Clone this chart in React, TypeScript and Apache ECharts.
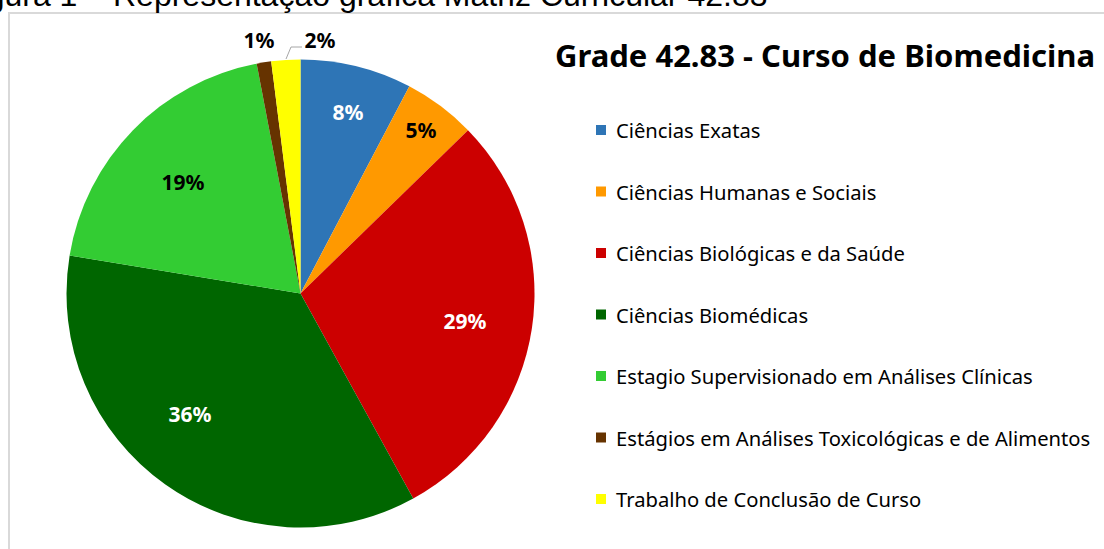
import React, { useEffect, useRef } from "react";
import * as echarts from "echarts";

const categories = [
  "Ciências Exatas",
  "Ciências Humanas e Sociais",
  "Ciências Biológicas e da Saúde",
  "Ciências Biomédicas",
  "Estagio Supervisionado em Análises Clínicas",
  "Estágios em Análises Toxicológicas e de Alimentos",
  "Trabalho de Conclusão de Curso",
];
const values = [7.7, 5.0, 29.3, 35.6, 19.4, 1.0, 2.0];
const colors = ["#2E75B6", "#FF9900", "#CC0000", "#006600", "#33CC33", "#663300", "#FFFF00"];
const labelColors = ["#FFFFFF", "#000000", "#FFFFFF", "#FFFFFF", "#000000", "#000000", "#000000"];
const titleText = "Grade 42.83 - Curso de Biomedicina";
const captionText = "Figura 1 – Representação gráfica Matriz Curricular 42.83";

// label centre positions (pixels)
const labelPos: number[][] = [
  [348, 112],
  [421, 130],
  [465, 321],
  [190, 414],
  [183, 182],
  [259, 40],
  [320, 40],
];

export default function App() {
  const ref = useRef<HTMLDivElement>(null);
  useEffect(() => {
    if (!ref.current) return;
    const chart = echarts.init(ref.current, null, { renderer: "svg" });
    const data = categories.map((name, i) => ({
      name,
      value: values[i],
      itemStyle: { color: colors[i] },
      label: {
        color: labelColors[i],
        position: i >= 5 ? "outside" : "inside",
      },
      labelLine: { show: i === 6, lineStyle: { color: "#A6A6A6", width: 1 } },
    }));
    chart.setOption({
      animation: false,
      backgroundColor: "#FFFFFF",
      title: {
        text: titleText,
        left: 555,
        top: 39,
        padding: 0,
        textStyle: {
          fontFamily: "Noto Sans",
          fontWeight: "bold",
          fontSize: 31,
          color: "#000000",
        },
      },
      legend: {
        orient: "vertical",
        left: 596,
        top: 118,
        padding: 0,
        icon: "rect",
        itemWidth: 10,
        itemHeight: 10,
        itemGap: 37.5,
        selectedMode: false,
        textStyle: {
          fontFamily: "Noto Sans",
          fontSize: 20.2,
          lineHeight: 24,
          color: "#000000",
          padding: [0, 0, 0, 5],
        },
        data: categories,
      },
      graphic: [
        {
          type: "rect",
          shape: { x: 9, y: 13, width: 1200, height: 600 },
          style: { fill: "none", stroke: "#D9D9D9", lineWidth: 2 },
          silent: true,
        },
        {
          type: "text",
          x: -40,
          y: -5,
          style: {
            text: captionText,
            font: '32px "Liberation Sans"',
            fill: "#000000",
            verticalAlign: "middle",
            align: "left",
          },
          silent: true,
        },
      ],
      series: [
        {
          type: "pie",
          center: [300.5, 293.5],
          radius: [0, 234],
          startAngle: 90,
          clockwise: true,
          avoidLabelOverlap: false,
          percentPrecision: 0,
          label: {
            show: true,
            formatter: "{d}%",
            fontFamily: "Noto Sans",
            fontWeight: "bold",
            fontSize: 21,
          },
          labelLine: { show: false, length: 10, length2: 10 },
          labelLayout: (params: any) => {
            const p = labelPos[params.dataIndex];
            const res: any = { x: p[0], y: p[1], align: "center", verticalAlign: "middle" };
            if (params.dataIndex === 6) {
              res.labelLinePoints = [
                [286, 59],
                [291, 47],
                [302, 47],
              ];
            }
            return res;
          },
          emphasis: { disabled: true },
          data,
        },
      ],
    });
    return () => chart.dispose();
  }, []);
  return (
    <div
      ref={ref}
      style={{ position: "fixed", left: 0, top: 0, width: 1104, height: 549 }}
    />
  );
}
